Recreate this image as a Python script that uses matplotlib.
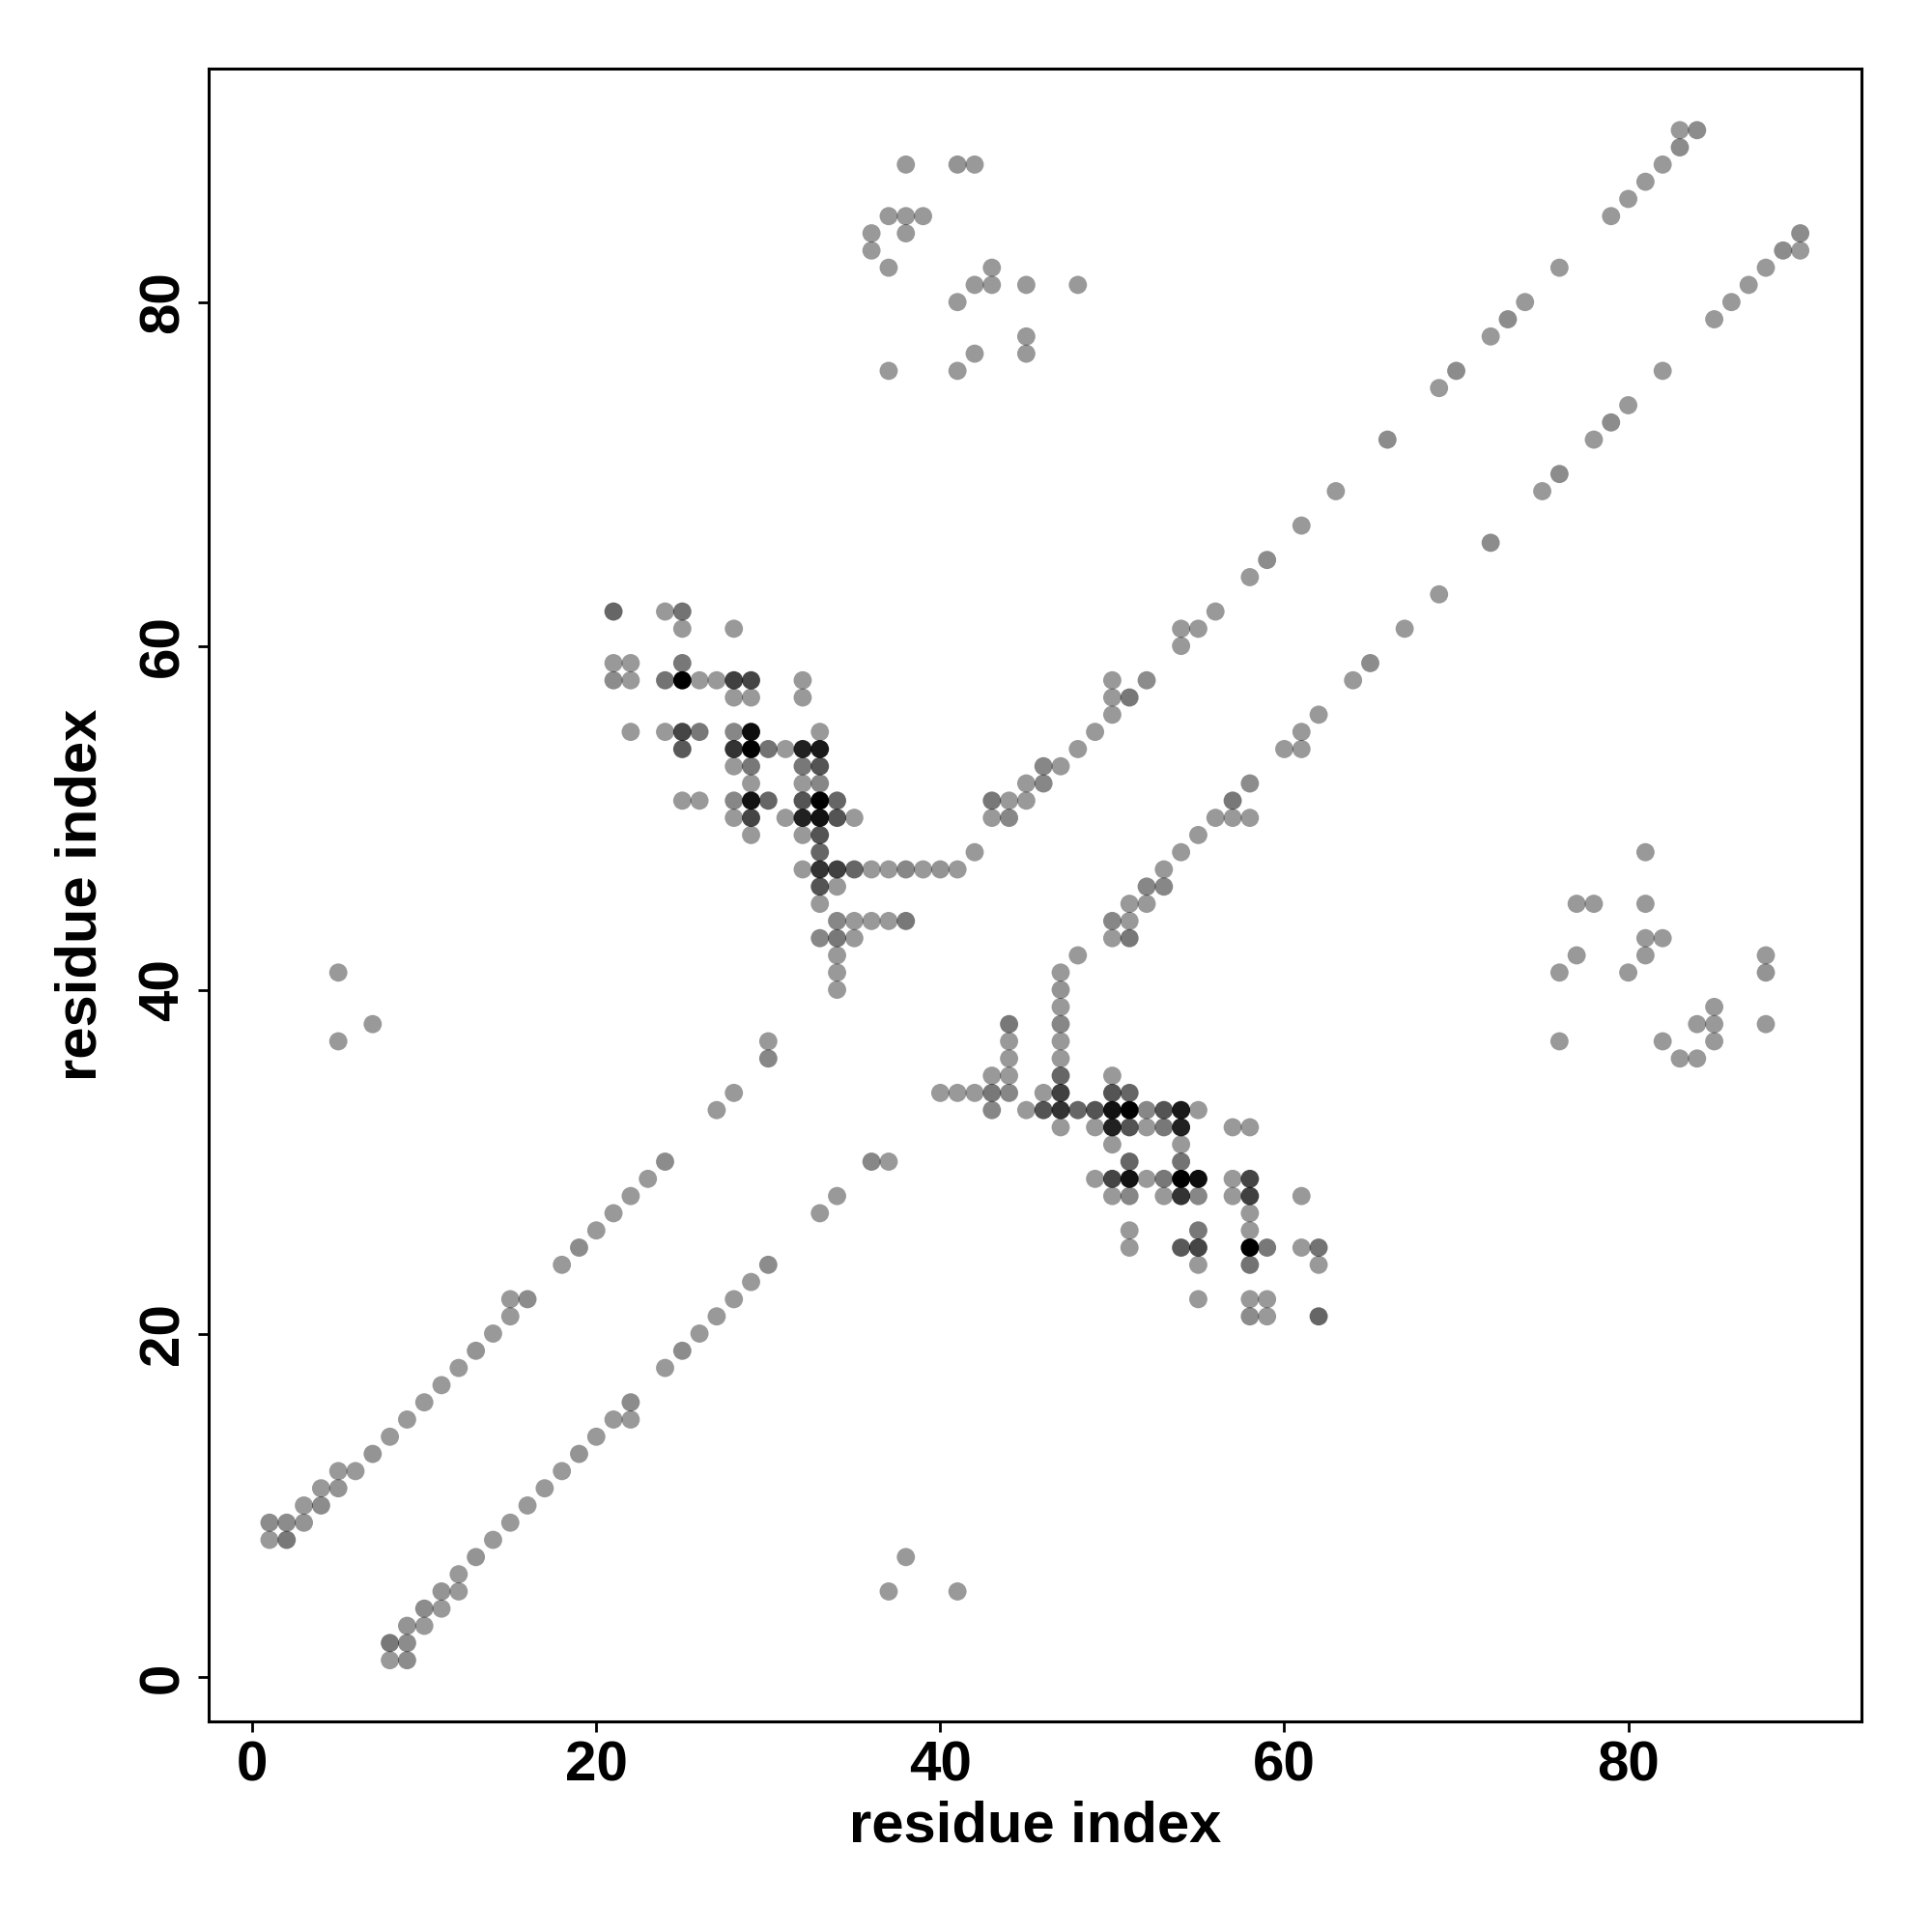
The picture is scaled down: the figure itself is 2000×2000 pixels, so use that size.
import matplotlib.pyplot as plt
import numpy as np

plt.rcParams['font.family'] = ['Liberation Sans', 'DejaVu Sans']

# contact pairs (upper triangle, i < j); the map is drawn symmetrically
# freq = fraction of models showing the contact (drives grey level)
res_i = [
    # short-range band
    1, 1, 2, 2, 3, 3, 4, 4, 5, 5, 6, 7, 8, 9, 10, 11, 12, 13, 14, 15, 15, 16,
    18, 19, 20, 21, 22, 23, 24, 27, 28, 30, 30,
    # isolated
    5, 5, 7,
    # central cluster
    21, 24, 25, 25, 28,
    21, 22, 25,
    21, 22, 24, 25, 26, 27, 28, 29, 32,
    28, 29, 32,
    22, 24, 25, 26, 28, 29, 33,
    25, 28, 29, 30, 31, 32, 33,
    28, 29, 32, 33,
    29, 32, 33,
    25, 26, 28, 29, 30, 32, 33, 34,
    28, 29, 31, 32, 33, 34, 35,
    29, 32, 33,
    33,
    32, 33, 34, 35, 36, 37, 38, 39, 40, 41,
    33, 34,
    33,
    34, 35, 36, 37, 38,
    33, 34, 35,
    34, 34, 34,
    # second band
    42, 43, 43, 44, 44, 45, 45, 46, 46, 47, 48, 49, 50, 50, 50, 51, 52,
    54, 54, 55, 56, 58, 59, 61, 63, 66, 69, 70, 72, 73, 74, 76, 79, 80,
    81, 82, 83, 83, 84,
    # long-range cluster
    38, 41, 42, 37, 38, 39, 36, 38, 36, 37, 43, 42, 43, 45, 48, 41,
    45, 45, 42, 37, 41,
]
res_j = [
    8, 9, 8, 9, 9, 10, 10, 11, 11, 12, 12, 13, 14, 15, 16, 17, 18, 19, 20, 21, 22, 22,
    24, 25, 26, 27, 28, 29, 30, 33, 34, 36, 37,
    37, 41, 38,
    62, 62, 62, 61, 61,
    59, 59, 59,
    58, 58, 58, 58, 58, 58, 58, 58, 58,
    57, 57, 57,
    55, 55, 55, 55, 55, 55, 55,
    54, 54, 54, 54, 54, 54, 54,
    53, 53, 53, 53,
    52, 52, 52,
    51, 51, 51, 51, 51, 51, 51, 51,
    50, 50, 50, 50, 50, 50, 50,
    49, 49, 49,
    48,
    47, 47, 47, 47, 47, 47, 47, 47, 47, 47,
    46, 46,
    45,
    44, 44, 44, 44, 44,
    43, 43, 43,
    42, 41, 40,
    48, 50, 51, 50, 51, 51, 52, 52, 53, 53, 54, 55, 56, 57, 58, 57, 58,
    60, 61, 61, 62, 64, 65, 67, 69, 72, 75, 76, 78, 79, 80, 82, 85, 86,
    87, 88, 89, 90, 90,
    88, 88, 88, 85, 85, 85, 84, 84, 83, 82, 82, 81, 81, 81, 81, 80,
    78, 77, 77, 76, 76,
]
freq = [
    0.40, 0.45, 0.53, 0.45, 0.42, 0.40, 0.45, 0.40, 0.42, 0.40, 0.40, 0.42, 0.40, 0.40,
    0.40, 0.40, 0.40, 0.42, 0.40, 0.40, 0.40, 0.45,
    0.40, 0.45, 0.40, 0.40, 0.40, 0.40, 0.45, 0.40, 0.40, 0.47, 0.40,
    0.40, 0.40, 0.40,
    0.60, 0.40, 0.55, 0.40, 0.40,
    0.40, 0.40, 0.53,
    0.45, 0.40, 0.55, 1.00, 0.40, 0.40, 0.75, 0.73, 0.40,
    0.40, 0.40, 0.40,
    0.40, 0.40, 0.73, 0.53, 0.47, 0.95, 0.40,
    0.65, 0.80, 1.00, 0.55, 0.40, 0.87, 0.90,
    0.40, 0.53, 0.53, 0.67,
    0.40, 0.40, 0.47,
    0.40, 0.40, 0.47, 0.93, 0.60, 0.67, 1.00, 0.60,
    0.40, 0.73, 0.40, 0.87, 0.93, 0.67, 0.40,
    0.40, 0.40, 0.67,
    0.60,
    0.40, 0.80, 0.75, 0.60, 0.40, 0.40, 0.47, 0.40, 0.42, 0.40,
    0.67, 0.40,
    0.40,
    0.47, 0.40, 0.40, 0.40, 0.53,
    0.47, 0.53, 0.40,
    0.40, 0.40, 0.40,
    0.40, 0.40, 0.53, 0.47, 0.40, 0.40, 0.40, 0.47, 0.47, 0.40, 0.40, 0.40, 0.40,
    0.40, 0.40, 0.53, 0.45,
    0.40, 0.40, 0.40, 0.40, 0.40, 0.45, 0.40, 0.40, 0.45, 0.40, 0.45, 0.40, 0.45,
    0.40, 0.40, 0.40, 0.40,
    0.40, 0.40, 0.45, 0.40, 0.45,
    0.40, 0.42, 0.40, 0.40, 0.40, 0.40, 0.40, 0.40, 0.40, 0.40, 0.40, 0.40, 0.40,
    0.40, 0.40, 0.40, 0.40, 0.40, 0.40, 0.40, 0.40,
]

x = np.array(res_i + res_j)
y = np.array(res_j + res_i)
f = np.array(freq + freq)
colors = np.zeros((len(f), 4))
colors[:, 3] = f

fig = plt.figure(figsize=(10, 10), dpi=200)
ax = fig.add_axes([0.1078, 0.109, 0.8557, 0.8553])
ax.scatter(x, y, s=46, c=colors, edgecolors='none')

lo, hi = x.min(), x.max()
pad = 0.04 * (hi - lo)
ax.set_xlim(lo - pad, hi + pad)
ax.set_ylim(lo - pad, hi + pad)

ticks = [0, 20, 40, 60, 80]
ax.set_xticks(ticks)
ax.set_yticks(ticks)
ax.set_xticklabels([str(t) for t in ticks], fontsize=21, fontweight='bold')
ax.set_yticklabels([str(t) for t in ticks], fontsize=21, fontweight='bold',
                   rotation=90, va='center')
ax.tick_params(length=4, width=1, pad=3, color='black')
for sp in ax.spines.values():
    sp.set_linewidth(1.1)

ax.set_xlabel('residue index', fontsize=21.5, fontweight='bold', labelpad=3)
ax.set_ylabel('residue index', fontsize=21.5, fontweight='bold', labelpad=11)

fig.savefig('out.png', dpi=200, facecolor='white')
